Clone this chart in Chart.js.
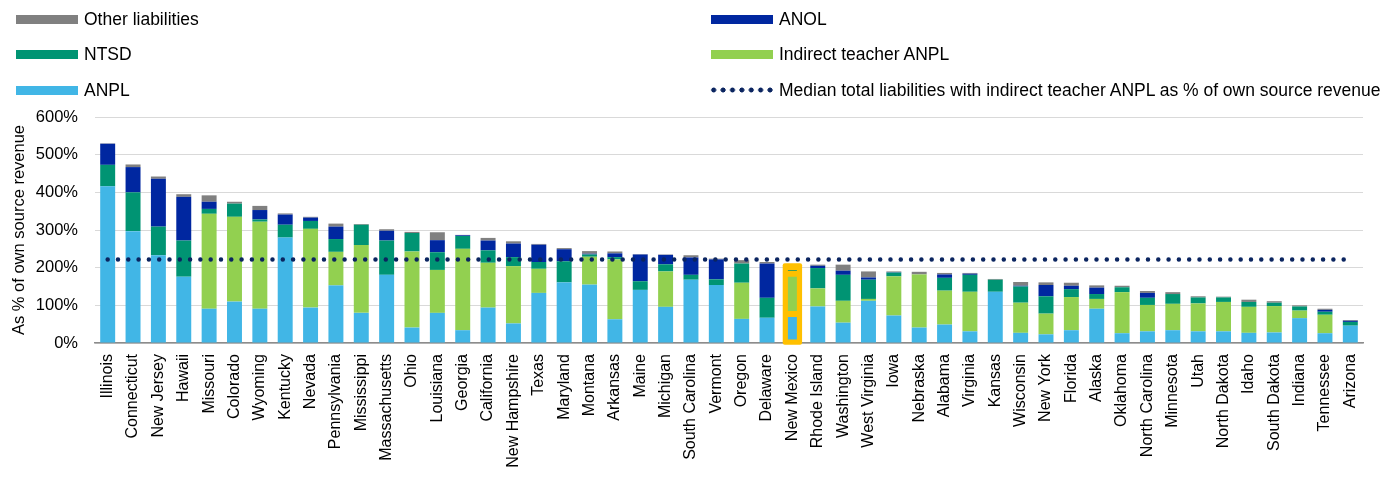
<!DOCTYPE html>
<html>
<head>
<meta charset="utf-8">
<script src="https://cdn.jsdelivr.net/npm/chart.js@4/dist/chart.umd.min.js"></script>
<style>
  html, body { margin: 0; padding: 0; background: #ffffff; }
  #wrap { position: relative; width: 1383px; height: 477px; }
  #chart { position: absolute; left: 0; top: 0; }
  .legend-item { position: absolute; height: 20px; display: flex; align-items: center;
    font-family: "Liberation Sans", Arial, sans-serif; font-size: 17.5px; color: #000; white-space: nowrap; }
  .swatch { width: 62px; height: 9px; margin-right: 6px; }
  .dots { width: 66px; height: 6px; margin-right: 4px;
    background-image: radial-gradient(circle, #0b2560 2.2px, rgba(255,255,255,0) 2.8px);
    background-size: 9.4px 6px; background-repeat: repeat-x; background-position: 0 0; }
</style>
</head>
<body>
<div id="wrap">
  <canvas id="chart" width="1383" height="477"></canvas>
  <div id="legend"></div>
</div>
<script>
// States, sorted by total liabilities as % of own source revenue
const states = ["Illinois","Connecticut","New Jersey","Hawaii","Missouri","Colorado","Wyoming","Kentucky","Nevada","Pennsylvania",
  "Mississippi","Massachusetts","Ohio","Louisiana","Georgia","California","New Hampshire","Texas","Maryland","Montana",
  "Arkansas","Maine","Michigan","South Carolina","Vermont","Oregon","Delaware","New Mexico","Rhode Island","Washington",
  "West Virginia","Iowa","Nebraska","Alabama","Virginia","Kansas","Wisconsin","New York","Florida","Alaska",
  "Oklahoma","North Carolina","Minnesota","Utah","North Dakota","Idaho","South Dakota","Indiana","Tennessee","Arizona"];

// Liability components, % of own source revenue
const anpl = [416,297,233,176,91,110,91,280,94,153, 80,181,41,80,34,94,52,133,161,155,
  63,141,96,168,154,64,67,77,97,54, 112,73,41,49,31,136,27,23,34,91, 26,31,34,31,31,27,28,66,26,46];
const indirectTeacherAnpl = [0,0,0,0,252,225,231,0,209,89, 180,0,202,114,216,119,152,64,0,74,
  159,0,94,0,0,96,0,107,48,58, 5,104,141,90,105,0,80,55,88,26, 109,70,70,74,78,69,70,20,49,0];
const ntsd = [57,103,76,96,13,35,6,34,21,34, 54,91,49,47,34,33,24,18,56,6,
  6,23,19,13,15,51,53,18,54,69, 51,10,0,34,45,32,43,46,21,13, 13,19,26,16,12,13,9,11,8,10];
const anol = [56,67,127,116,19,0,25,27,9,33, 0,26,0,32,2,26,36,46,32,2,
  10,71,25,46,53,0,91,0,6,11, 6,1,0,9,3,0,2,30,9,17, 0,13,0,0,0,0,0,0,5,3];
const otherLiabilities = [1,7,6,7,17,5,11,3,2,8, 2,4,3,21,1,7,6,2,3,7,
  5,1,1,6,2,9,4,4,3,16, 16,2,7,4,2,2,10,7,8,6, 4,5,5,3,2,6,4,3,3,2];

// Median total liabilities with indirect teacher ANPL
const medianTotal = 222;
const highlightedState = "New Mexico";

const yTicks = [0, 100, 200, 300, 400, 500, 600];

const FONT = '"Liberation Sans", Arial, sans-serif';
const HIGHLIGHT = '#ffc000';
const hiIndex = states.indexOf(highlightedState);

const barSeries = [
  { label: 'ANPL', data: anpl, color: '#41b6e6' },
  { label: 'Indirect teacher ANPL', data: indirectTeacherAnpl, color: '#92d050' },
  { label: 'NTSD', data: ntsd, color: '#009473' },
  { label: 'ANOL', data: anol, color: '#0027a0' },
  { label: 'Other liabilities', data: otherLiabilities, color: '#808080' }
];

const datasets = barSeries.map(s => ({
  type: 'bar',
  label: s.label,
  data: s.data,
  backgroundColor: s.color,
  borderColor: ctx => ctx.dataIndex === hiIndex ? HIGHLIGHT : 'rgba(0,0,0,0)',
  borderWidth: ctx => ctx.dataIndex === hiIndex ? 3 : 0,
  borderSkipped: false,
  stack: 'liabilities',
  order: 1,
  barPercentage: 0.59,
  categoryPercentage: 1.0
}));

datasets.push({
  type: 'line',
  label: 'Median total liabilities with indirect teacher ANPL as % of own source revenue',
  data: states.map(() => medianTotal),
  borderColor: '#0b2560',
  borderWidth: 4.5,
  borderDash: [0, 10.3],
  borderCapStyle: 'round',
  pointRadius: 0,
  fill: false,
  stack: 'median',
  order: 0
});

// Yellow frame behind the highlighted state's stacked bar
const highlightFrame = {
  id: 'highlightFrame',
  beforeDatasetsDraw(chart) {
    const ctx = chart.ctx;
    let top = Infinity, base = -Infinity, x = 0, w = 0;
    chart.data.datasets.forEach((ds, i) => {
      if (ds.type !== 'bar') return;
      const el = chart.getDatasetMeta(i).data[hiIndex];
      if (!el) return;
      const p = el.getProps(['x', 'y', 'base', 'width'], true);
      top = Math.min(top, p.y, p.base);
      base = Math.max(base, p.y, p.base);
      x = p.x; w = p.width;
    });
    if (!isFinite(top)) return;
    ctx.save();
    ctx.fillStyle = HIGHLIGHT;
    const pad = 2.2;
    const rx = x - w / 2 - pad, ry = top - pad, rw = w + 2 * pad, rh = base - top + 2 * pad;
    ctx.beginPath();
    if (ctx.roundRect) ctx.roundRect(rx, ry, rw, rh, 2); else ctx.rect(rx, ry, rw, rh);
    ctx.fill();
    ctx.restore();
  }
};

new Chart(document.getElementById('chart'), {
  data: { labels: states, datasets },
  plugins: [highlightFrame],
  options: {
    responsive: false,
    animation: false,
    layout: { padding: { top: 117, left: 10, right: 20, bottom: 0 } },
    plugins: {
      legend: { display: false },
      tooltip: { enabled: false }
    },
    scales: {
      x: {
        stacked: true,
        grid: { display: false, drawTicks: false },
        border: { display: true, color: '#8c8c8c', width: 1.5 },
        ticks: {
          color: '#000',
          font: { family: FONT, size: 16 },
          minRotation: 90, maxRotation: 90,
          autoSkip: false,
          padding: 11
        },
        afterFit(scale) { scale.height = 134; }
      },
      y: {
        stacked: true,
        min: 0, max: 600,
        afterBuildTicks(scale) { scale.ticks = yTicks.map(v => ({ value: v })); },
        grid: { color: '#d9d9d9', lineWidth: 1, drawTicks: false },
        border: { display: false },
        ticks: {
          color: '#000',
          font: { family: FONT, size: 16.5 },
          padding: 17,
          callback: v => v + '%'
        },
        title: {
          display: true,
          text: 'As % of own source revenue',
          color: '#000',
          font: { family: FONT, size: 16.5 },
          padding: { top: 0, bottom: 0 }
        },
        afterFit(scale) { scale.width = 85; }
      }
    }
  }
});

// Two-column legend above the plot
const legendLayout = [
  { label: 'Other liabilities', color: '#808080', x: 16, y: 19 },
  { label: 'NTSD', color: '#009473', x: 16, y: 54 },
  { label: 'ANPL', color: '#41b6e6', x: 16, y: 90 },
  { label: 'ANOL', color: '#0027a0', x: 711, y: 19 },
  { label: 'Indirect teacher ANPL', color: '#92d050', x: 711, y: 54 },
  { label: 'Median total liabilities with indirect teacher ANPL as % of own source revenue', dots: true, x: 709, y: 90 }
];
const legendEl = document.getElementById('legend');
legendLayout.forEach(item => {
  const row = document.createElement('div');
  row.className = 'legend-item';
  row.style.left = item.x + 'px';
  row.style.top = (item.y - 10) + 'px';
  const mark = document.createElement('span');
  if (item.dots) {
    mark.className = 'dots';
  } else {
    mark.className = 'swatch';
    mark.style.background = item.color;
  }
  const text = document.createElement('span');
  text.textContent = item.label;
  row.appendChild(mark);
  row.appendChild(text);
  legendEl.appendChild(row);
});
</script>
</body>
</html>
